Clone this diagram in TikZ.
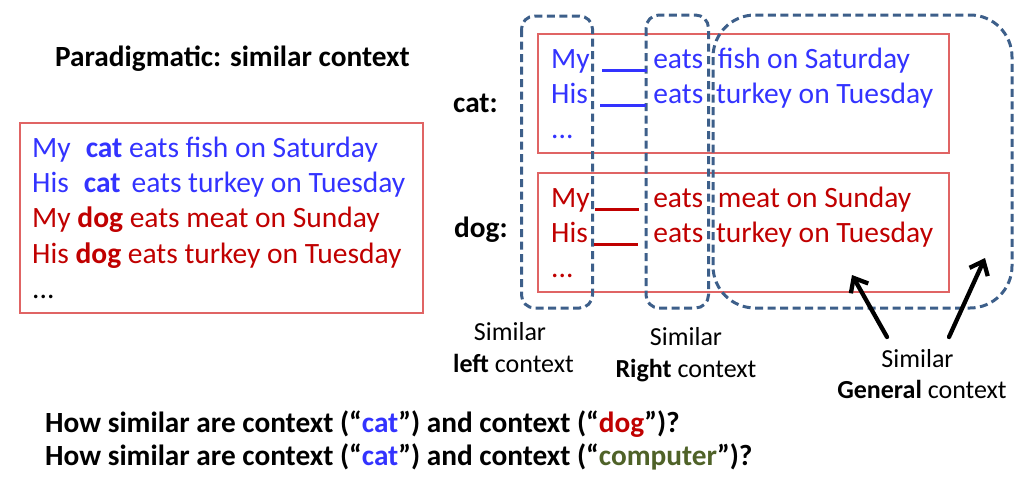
\documentclass[tikz,border=0pt]{standalone}
\usepackage{fontspec}
\setmainfont{Carlito}
\usetikzlibrary{arrows.meta}
\definecolor{catblue}{RGB}{51,51,255}
\definecolor{dogred}{RGB}{192,0,0}
\definecolor{boxred}{RGB}{224,100,100}
\definecolor{ctxblue}{RGB}{61,95,138}
\definecolor{compgreen}{RGB}{79,98,40}
\tikzset{
  redbox/.style={draw=boxred, line width=1.3pt, inner sep=0pt},
  ctxbox/.style={draw=ctxblue, line width=3pt, dash pattern=on 8pt off 4.5pt, rounded corners=13pt},
  txt/.style={anchor=base west, inner sep=0pt, font=\fontsize{29.5}{35}\selectfont},
  boldtxt/.style={anchor=base west, inner sep=0pt, font=\fontsize{29.3}{35}\selectfont\bfseries},
  lab/.style={anchor=base, inner sep=0pt, font=\fontsize{26}{32}\selectfont},
  pointer/.style={-{Straight Barb[length=12pt,width=20pt]}, line width=4.3pt, line cap=round}
}
\begin{document}
\begin{tikzpicture}[x=1pt, y=-1pt]
            \useasboundingbox (0,0) rectangle (1024,480);
            % boxes
            \node [redbox, minimum width=403, minimum height=190] (leftbox) at (221.5,218) {};
            \node [redbox, minimum width=411, minimum height=119] (catbox) at (743.5,93.5) {};
            \node [redbox, minimum width=411, minimum height=119] (dogbox) at (743.5,232.5) {};
            \draw [ctxbox] (521.5,16) rectangle (592.5,308);
            \draw [ctxbox] (646,15) rectangle (708.5,308);
            \draw [ctxbox, rounded corners=42pt] (713,15) rectangle (1012,308);
            % left side
            \node [boldtxt] (title) at (55,66) {Paradigmatic: similar context};
            \node [txt, catblue] (sent1) at (32,157) {My\hspace{15pt}\textbf{cat} eats fish on Saturday};
            \node [txt, catblue] (sent2) at (32,192.3) {His\hspace{15pt}\textbf{cat}\hspace{11pt}eats turkey on Tuesday};
            \node [txt, dogred] (sent3) at (32,227.6) {My \textbf{dog} eats meat on Sunday};
            \node [txt, dogred] (sent4) at (32,263) {His \textbf{dog} eats turkey on Tuesday};
            \node [txt] (sent5) at (32,298) {...};
            % right side
            \node [boldtxt] (catlbl) at (453,112) {cat:};
            \node [boldtxt] (doglbl) at (454,237) {dog:};
            \node [txt, catblue] (cat1) at (551,68) {My\hspace{12.5pt}\rule[-3.5pt]{45pt}{3pt}\hspace{6pt}eats\hspace{14.7pt}fish on Saturday};
            \node [txt, catblue] (cat2) at (551,103) {His\hspace{12.5pt}\rule[-3.5pt]{46pt}{3pt}\hspace{7pt}eats\hspace{12.7pt}turkey on Tuesday};
            \node [txt, catblue] (cat3) at (551,138) {...};
            \node [txt, dogred] (dog1) at (551,207) {My\hspace{5.5pt}\rule[-3.5pt]{44pt}{3pt}\hspace{14pt}eats\hspace{14.7pt}meat on Sunday};
            \node [txt, dogred] (dog2) at (551,242) {His\hspace{6.5pt}\rule[-3.5pt]{44pt}{3pt}\hspace{15pt}eats\hspace{12.7pt}turkey on Tuesday};
            \node [txt, dogred] (dog3) at (551,277) {...};
            % labels under the dashed boxes
            \node [lab] (lsim) at (510,340) {Similar};
            \node [lab] (lctx) at (513.5,372) {\textbf{left} context};
            \node [lab] (rsim) at (686,345) {Similar};
            \node [lab] (rctx) at (686,377) {\textbf{Right} context};
            \node [lab] (gsim) at (917.5,367) {Similar};
            \node [lab] (gctx) at (922,398) {\textbf{General} context};
            \coordinate (gtail1) at (887,337);
            \coordinate (gtip1) at (852,275);
            \coordinate (gtail2) at (949,337);
            \coordinate (gtip2) at (985,258);
            \draw [pointer] (gtail1) to (gtip1);
            \draw [pointer] (gtail2) to (gtip2);
            % questions
            \node [boldtxt] (q1) at (45,432) {How similar are context (“{\color{catblue}cat}”) and context (“{\color{dogred}dog}”)?};
            \node [boldtxt] (q2) at (45,465) {How similar are context (“{\color{catblue}cat}”) and context (“{\color{compgreen}computer}”)?};
        \end{tikzpicture}
\end{document}
